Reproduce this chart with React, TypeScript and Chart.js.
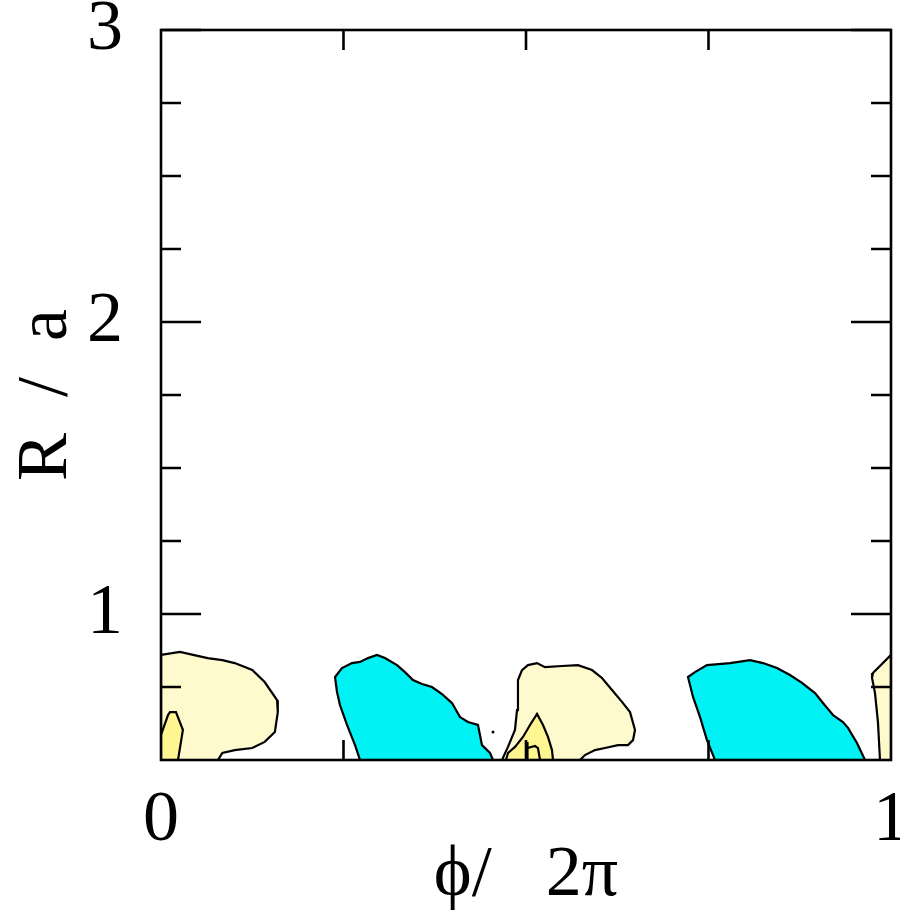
import React, { useEffect, useRef } from 'react';
import { Chart, registerables } from 'chart.js';

Chart.register(...registerables);

type Pt = [number, number];

// Axis ranges and ticks
const phiMin = 0;
const phiMax = 1;
const radiusMin = 0.5;
const radiusMax = 3;
const phiLabelTicks = [0, 1];
const phiMinorTicks = [0.25, 0.5, 0.75];
const radiusLabelTicks = [1, 2, 3];
const radiusMinorTicks = [0.75, 1.25, 1.5, 1.75, 2.25, 2.5, 2.75];

// Contour outlines in (φ/2π, R/a)
const lowLevelLeft: Pt[] = [
  [0, 0.5], [0, 0.86], [0.026, 0.87], [0.044, 0.86], [0.064, 0.849], [0.084, 0.842],
  [0.101, 0.832], [0.125, 0.808], [0.142, 0.767], [0.159, 0.705], [0.16, 0.664],
  [0.156, 0.596], [0.142, 0.562], [0.125, 0.541], [0.101, 0.534], [0.084, 0.524],
  [0.078, 0.5], [0, 0.5],
];
const lowLevelMid: Pt[] = [
  [0.4671, 0.5], [0.4753, 0.545], [0.4849, 0.603], [0.4877, 0.671], [0.489, 0.774],
  [0.4945, 0.808], [0.5027, 0.825], [0.5151, 0.832], [0.526, 0.818], [0.5493, 0.822],
  [0.5712, 0.825], [0.5904, 0.808], [0.6041, 0.781], [0.6178, 0.74], [0.6315, 0.699],
  [0.6425, 0.664], [0.6493, 0.603], [0.6466, 0.568], [0.6397, 0.551], [0.626, 0.551],
  [0.6082, 0.541], [0.5945, 0.534], [0.5808, 0.517], [0.574, 0.5], [0.4671, 0.5],
];
const lowLevelRight: Pt[] = [
  [1, 0.5], [1, 0.86], [0.9753, 0.798], [0.974, 0.781], [0.9781, 0.729],
  [0.9822, 0.627], [0.9849, 0.5], [1, 0.5],
];
const midLevelLeft: Pt[] = [
  [0, 0.5], [0, 0.586], [0.0096, 0.654], [0.0123, 0.664], [0.0205, 0.664],
  [0.03, 0.603], [0.0233, 0.5], [0, 0.5],
];
const midLevelMid: Pt[] = [
  [0.4726, 0.5], [0.4753, 0.524], [0.4849, 0.545], [0.4959, 0.579], [0.5055, 0.62],
  [0.5151, 0.658], [0.5233, 0.62], [0.5301, 0.579], [0.5356, 0.534], [0.537, 0.5],
  [0.4726, 0.5],
];
const topLevelMid: Pt[] = [
  [0.5014, 0.5], [0.5014, 0.562], [0.5027, 0.541], [0.5123, 0.548], [0.5164, 0.541],
  [0.5192, 0.5], [0.5014, 0.5],
];
const negLevelLeft: Pt[] = [
  [0.2726, 0.5], [0.2658, 0.551], [0.2548, 0.62], [0.2452, 0.688], [0.2411, 0.733],
  [0.2384, 0.784], [0.2479, 0.815], [0.2616, 0.832], [0.2726, 0.836], [0.2836, 0.849],
  [0.2959, 0.86], [0.3068, 0.849], [0.3233, 0.825], [0.3342, 0.801], [0.3452, 0.774],
  [0.3575, 0.76], [0.3712, 0.75], [0.3849, 0.726], [0.3986, 0.695], [0.4096, 0.647],
  [0.4205, 0.63], [0.4342, 0.62], [0.4397, 0.551], [0.4507, 0.524], [0.4548, 0.5],
  [0.2726, 0.5],
];
const negLevelRight: Pt[] = [
  [0.7589, 0.5], [0.7479, 0.568], [0.7384, 0.647], [0.7288, 0.716], [0.7219, 0.784],
  [0.7315, 0.801], [0.7479, 0.825], [0.7795, 0.832], [0.8068, 0.842], [0.8247, 0.832],
  [0.8438, 0.815], [0.8616, 0.791], [0.8781, 0.764], [0.8959, 0.729], [0.9068, 0.695],
  [0.9205, 0.654], [0.9342, 0.63], [0.9411, 0.61], [0.9534, 0.558], [0.9644, 0.5],
  [0.7589, 0.5],
];
const isolatedPoints: Pt[] = [[0.4548, 0.596]];

const LOW_FILL = 'rgb(255, 250, 205)';
const MID_FILL = 'rgb(255, 246, 145)';
const NEG_FILL = 'rgb(0, 242, 245)';
const FONT_FAMILY = '"Liberation Serif", "DejaVu Serif", serif';

const toXY = (pts: Pt[]) => pts.map(([x, y]) => ({ x, y }));

const contour = (pts: Pt[], fill: string, order: number) => ({
  data: toXY(pts),
  showLine: true,
  fill: 'shape' as const,
  backgroundColor: fill,
  borderColor: '#000',
  borderWidth: 2.2,
  tension: 0,
  pointRadius: 0,
  order,
});

// Frame with inward tick marks on all four sides
const framePlugin = {
  id: 'frameTicks',
  afterDatasetsDraw(chart: any) {
    const { ctx, chartArea: a, scales } = chart;
    const xs = scales.x;
    const ys = scales.y;
    const minor = 20;
    const major = 40;
    ctx.save();
    ctx.strokeStyle = '#000';
    ctx.lineWidth = 2.6;
    ctx.beginPath();
    for (const v of phiMinorTicks) {
      const px = xs.getPixelForValue(v);
      ctx.moveTo(px, a.bottom);
      ctx.lineTo(px, a.bottom - minor);
      ctx.moveTo(px, a.top);
      ctx.lineTo(px, a.top + minor);
    }
    for (const v of radiusMinorTicks) {
      const py = ys.getPixelForValue(v);
      ctx.moveTo(a.left, py);
      ctx.lineTo(a.left + minor, py);
      ctx.moveTo(a.right, py);
      ctx.lineTo(a.right - minor, py);
    }
    for (const v of radiusLabelTicks) {
      const py = ys.getPixelForValue(v);
      ctx.moveTo(a.left, py);
      ctx.lineTo(a.left + major, py);
      ctx.moveTo(a.right, py);
      ctx.lineTo(a.right - major, py);
    }
    ctx.stroke();
    ctx.strokeRect(a.left, a.top, a.right - a.left, a.bottom - a.top);
    ctx.restore();
  },
};

export default function App() {
  const canvasRef = useRef<HTMLCanvasElement | null>(null);

  useEffect(() => {
    if (!canvasRef.current) return;
    const font = { family: FONT_FAMILY, size: 72 };
    const titleFont = { family: FONT_FAMILY, size: 72, lineHeight: 1 };
    const chart = new Chart(canvasRef.current, {
      type: 'line',
      data: {
        datasets: [
          {
            data: toXY(isolatedPoints),
            showLine: false,
            pointRadius: 1.5,
            pointBackgroundColor: '#000',
            pointBorderWidth: 0,
            order: 0,
          } as any,
          contour(topLevelMid, MID_FILL, 1),
          contour(midLevelLeft, MID_FILL, 2),
          contour(midLevelMid, MID_FILL, 2),
          contour(lowLevelLeft, LOW_FILL, 3),
          contour(lowLevelMid, LOW_FILL, 3),
          contour(lowLevelRight, LOW_FILL, 3),
          contour(negLevelLeft, NEG_FILL, 3),
          contour(negLevelRight, NEG_FILL, 3),
        ],
      },
      options: {
        responsive: false,
        animation: false,
        events: [],
        layout: { padding: { top: 30, right: 9, left: 0, bottom: 0 } },
        plugins: {
          legend: { display: false },
          tooltip: { enabled: false },
        },
        scales: {
          x: {
            type: 'linear',
            position: 'bottom',
            min: phiMin,
            max: phiMax,
            grid: { display: false },
            border: { display: false },
            afterBuildTicks: (s: any) => {
              s.ticks = phiLabelTicks.map((value) => ({ value }));
            },
            afterFit: (s: any) => {
              s.height = 153;
              s.paddingLeft = 0;
              s.paddingRight = 0;
            },
            ticks: {
              font,
              color: '#000',
              padding: 10,
              maxRotation: 0,
              autoSkip: false,
              callback: (v: any) => String(v),
            },
            title: {
              display: true,
              text: 'ϕ/   2π',
              font: titleFont,
              color: '#000',
              padding: { top: 0, bottom: 1 },
            },
          },
          y: {
            type: 'linear',
            position: 'left',
            min: radiusMin,
            max: radiusMax,
            grid: { display: false },
            border: { display: false },
            afterBuildTicks: (s: any) => {
              s.ticks = radiusLabelTicks.map((value) => ({ value }));
            },
            afterFit: (s: any) => {
              s.width = 161;
              s.paddingTop = 0;
              s.paddingBottom = 0;
            },
            ticks: {
              font,
              color: '#000',
              padding: 30,
              autoSkip: false,
              callback: (v: any) => String(v),
            },
            title: {
              display: true,
              text: 'R  /  a',
              font: titleFont,
              color: '#000',
              padding: { top: 11, bottom: 0 },
            },
          },
        },
      },
      plugins: [framePlugin],
    });
    return () => chart.destroy();
  }, []);

  return (
    <div style={{ position: 'absolute', left: 0, top: 0, width: 900, height: 913, background: '#fff' }}>
      <canvas ref={canvasRef} width={900} height={913} style={{ display: 'block' }} />
    </div>
  );
}
